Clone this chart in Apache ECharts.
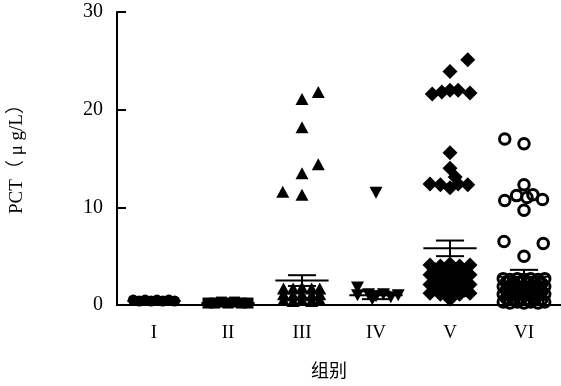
<!DOCTYPE html>
<html>
<head>
<meta charset="utf-8">
<script src="https://cdn.jsdelivr.net/npm/echarts@6/dist/echarts.min.js"></script>
<style>
  html, body { margin: 0; padding: 0; background: #fff; }
  #chart { width: 561px; height: 386px; }
</style>
</head>
<body>
<div id="chart"></div>
<script>
const groups = ['I', 'II', 'III', 'IV', 'V', 'VI']
const yTicks = [0, 10, 20, 30]

// PCT values per group, with horizontal jitter (in category widths)
const g1Values = [0.5, 0.4, 0.5, 0.4, 0.5, 0.4, 0.5, 0.4]
const g1Jitter = [-0.28, -0.2, -0.12, -0.04, 0.04, 0.12, 0.2, 0.28]

const g2Values = [0.2, 0.2, 0.3, 0.2, 0.3, 0.2, 0.2]
const g2Jitter = [-0.27, -0.18, -0.09, 0, 0.09, 0.18, 0.27]

const g3Values = [21.8, 21.1, 18.2, 14.4, 13.5, 11.6, 11.3,
  1.7, 1.7, 1.8, 1.7, 1.7,
  1.1, 1.0, 1.1, 1.0, 1.1,
  0.5, 0.4, 0.5, 0.4, 0.5]
const g3Jitter = [0.22, 0, 0, 0.22, 0, -0.26, 0,
  -0.25, -0.12, 0, 0.13, 0.24,
  -0.25, -0.12, 0, 0.13, 0.24,
  -0.25, -0.12, 0, 0.13, 0.24]

const g4Values = [11.5, 1.8, 1.0, 1.1, 0.9, 1.1, 0.8, 1.0, 0.6]
const g4Jitter = [0, -0.25, -0.25, -0.1, 0, 0.1, 0.2, 0.3, -0.05]

const g5Values = [25.1, 23.9, 21.6, 21.8, 22.0, 22.0, 21.7,
  15.6, 14.0, 13.1, 12.4, 12.3, 12.0, 12.4, 12.3,
  4.1, 4.0, 4.2, 4.0, 4.1,
  3.6, 3.5, 3.6, 3.5,
  3.1, 3.0, 3.1, 3.0, 3.1,
  2.6, 2.5, 2.6, 2.5,
  2.1, 2.0, 2.1, 2.0, 2.1,
  1.6, 1.5, 1.6, 1.5,
  1.2, 1.1, 1.2, 1.1, 1.2,
  0.6]
const g5Jitter = [0.24, 0, -0.24, -0.11, 0, 0.11, 0.27,
  0, 0, 0.07, -0.27, -0.13, 0, 0.11, 0.24,
  -0.27, -0.13, 0, 0.13, 0.27,
  -0.2, -0.07, 0.07, 0.2,
  -0.27, -0.13, 0, 0.13, 0.27,
  -0.2, -0.07, 0.07, 0.2,
  -0.27, -0.13, 0, 0.13, 0.27,
  -0.2, -0.07, 0.07, 0.2,
  -0.27, -0.13, 0, 0.13, 0.27,
  0]

const g6Values = [17.0, 16.5, 12.3, 11.2, 11.0, 11.3, 10.7, 10.8, 9.7, 6.5, 6.3, 5.0,
  2.7, 2.6, 2.7, 2.6, 2.7, 2.6, 2.7,
  2.3, 2.2, 2.3, 2.2, 2.3, 2.2,
  1.9, 1.8, 1.9, 1.8, 1.9, 1.8, 1.9,
  1.5, 1.4, 1.5, 1.4, 1.5, 1.4,
  1.1, 1.0, 1.1, 1.0, 1.1, 1.0, 1.1,
  0.7, 0.6, 0.7, 0.6, 0.7, 0.6,
  0.3, 0.2, 0.3, 0.2, 0.3, 0.2, 0.3]
const g6Jitter = [-0.26, 0, 0, -0.1, 0.04, 0.12, -0.26, 0.25, 0, -0.27, 0.26, 0,
  -0.28, -0.19, -0.09, 0, 0.09, 0.19, 0.28,
  -0.24, -0.14, -0.05, 0.05, 0.14, 0.24,
  -0.28, -0.19, -0.09, 0, 0.09, 0.19, 0.28,
  -0.24, -0.14, -0.05, 0.05, 0.14, 0.24,
  -0.28, -0.19, -0.09, 0, 0.09, 0.19, 0.28,
  -0.24, -0.14, -0.05, 0.05, 0.14, 0.24,
  -0.28, -0.19, -0.09, 0, 0.09, 0.19, 0.28]

// mean and SEM drawn as bars
const meanValues = [0.4, 0.2, 2.5, 1.0, 5.8, 2.9]
const semValues = [0.05, 0.05, 0.55, 0.4, 0.8, 0.7]

const serif = '"Liberation Serif", "Noto Sans CJK SC", serif'
const chart = echarts.init(document.getElementById('chart'), null, { renderer: 'canvas' })

const pts = (vals, jit, gi) => vals.map((v, i) => [gi + jit[i], v])

const dotSeries = (data, symbol, opts = {}) => Object.assign({
  type: 'scatter',
  xAxisIndex: 1,
  data,
  symbol,
  symbolSize: 12,
  clip: false,
  itemStyle: { color: '#000', opacity: 1 },
  emphasis: { disabled: true },
  z: 3,
}, opts)

chart.setOption({
  animation: false,
  grid: { left: 116, right: 0, top: 12, bottom: 81 },
  xAxis: [
    {
      type: 'category',
      data: groups,
      boundaryGap: true,
      axisLine: { lineStyle: { color: '#000', width: 2 } },
      axisTick: { show: false },
      axisLabel: { color: '#000', fontFamily: serif, fontSize: 19, margin: 19 },
      name: '组别',
      nameLocation: 'middle',
      nameGap: 56,
      nameTextStyle: { color: '#000', fontFamily: '"Noto Sans CJK SC", sans-serif', fontSize: 18, padding: [0, 20, 0, 0] },
      splitLine: { show: false },
    },
    { type: 'value', min: -0.5, max: 5.5, show: false },
  ],
  yAxis: {
    type: 'value',
    min: 0,
    max: 30,
    interval: 10,
    axisLine: { show: true, onZero: false, lineStyle: { color: '#000', width: 2 } },
    axisTick: { show: true, inside: true, length: 9, lineStyle: { color: '#000', width: 2 } },
    axisLabel: {
      color: '#000', fontFamily: serif, fontSize: 20, margin: 14,
      formatter: (v) => (yTicks.includes(v) ? String(v) : ''),
    },
    splitLine: { show: false },
    name: 'PCT（ μ g/L）',
    nameLocation: 'middle',
    nameGap: 90,
    nameTextStyle: { color: '#000', fontFamily: serif, fontSize: 19, padding: [0, 0, 0, 8] },
  },
  series: [
    dotSeries(pts(g1Values, g1Jitter, 0), 'circle', { symbolSize: 11 }),
    dotSeries(pts(g2Values, g2Jitter, 1), 'rect', { symbolSize: 11 }),
    dotSeries(pts(g3Values, g3Jitter, 2), 'triangle', { symbolSize: [13, 12] }),
    dotSeries(pts(g4Values, g4Jitter, 3), 'triangle', { symbolSize: [13, 12], symbolRotate: 180 }),
    dotSeries(pts(g5Values, g5Jitter, 4), 'diamond', { symbolSize: 15 }),
    dotSeries(pts(g6Values, g6Jitter, 5), 'circle', {
      symbolSize: 10.5,
      itemStyle: { color: 'rgba(0,0,0,0)', borderColor: '#000', borderWidth: 3, opacity: 1 },
    }),
    {
      type: 'custom',
      xAxisIndex: 1,
      data: meanValues.map((m, i) => [i, m, semValues[i]]),
      z: 5,
      clip: false,
      renderItem: (params, api) => {
        const i = api.value(0), m = api.value(1), s = api.value(2)
        const c = api.coord([i, m])
        const hi = api.coord([i, m + s])
        const lo = api.coord([i, Math.max(m - s, 0)])
        const unit = api.size([1, 0])[0]
        const wm = unit * 0.36, wc = unit * 0.19
        const style = { stroke: '#000', lineWidth: 2, fill: null }
        return {
          type: 'group',
          children: [
            { type: 'line', shape: { x1: c[0] - wm, y1: c[1], x2: c[0] + wm, y2: c[1] }, style },
            { type: 'line', shape: { x1: c[0], y1: lo[1], x2: c[0], y2: hi[1] }, style },
            { type: 'line', shape: { x1: c[0] - wc, y1: hi[1], x2: c[0] + wc, y2: hi[1] }, style },
            { type: 'line', shape: { x1: c[0] - wc, y1: lo[1], x2: c[0] + wc, y2: lo[1] }, style },
          ],
        }
      },
    },
  ],
})
</script>
</body>
</html>
